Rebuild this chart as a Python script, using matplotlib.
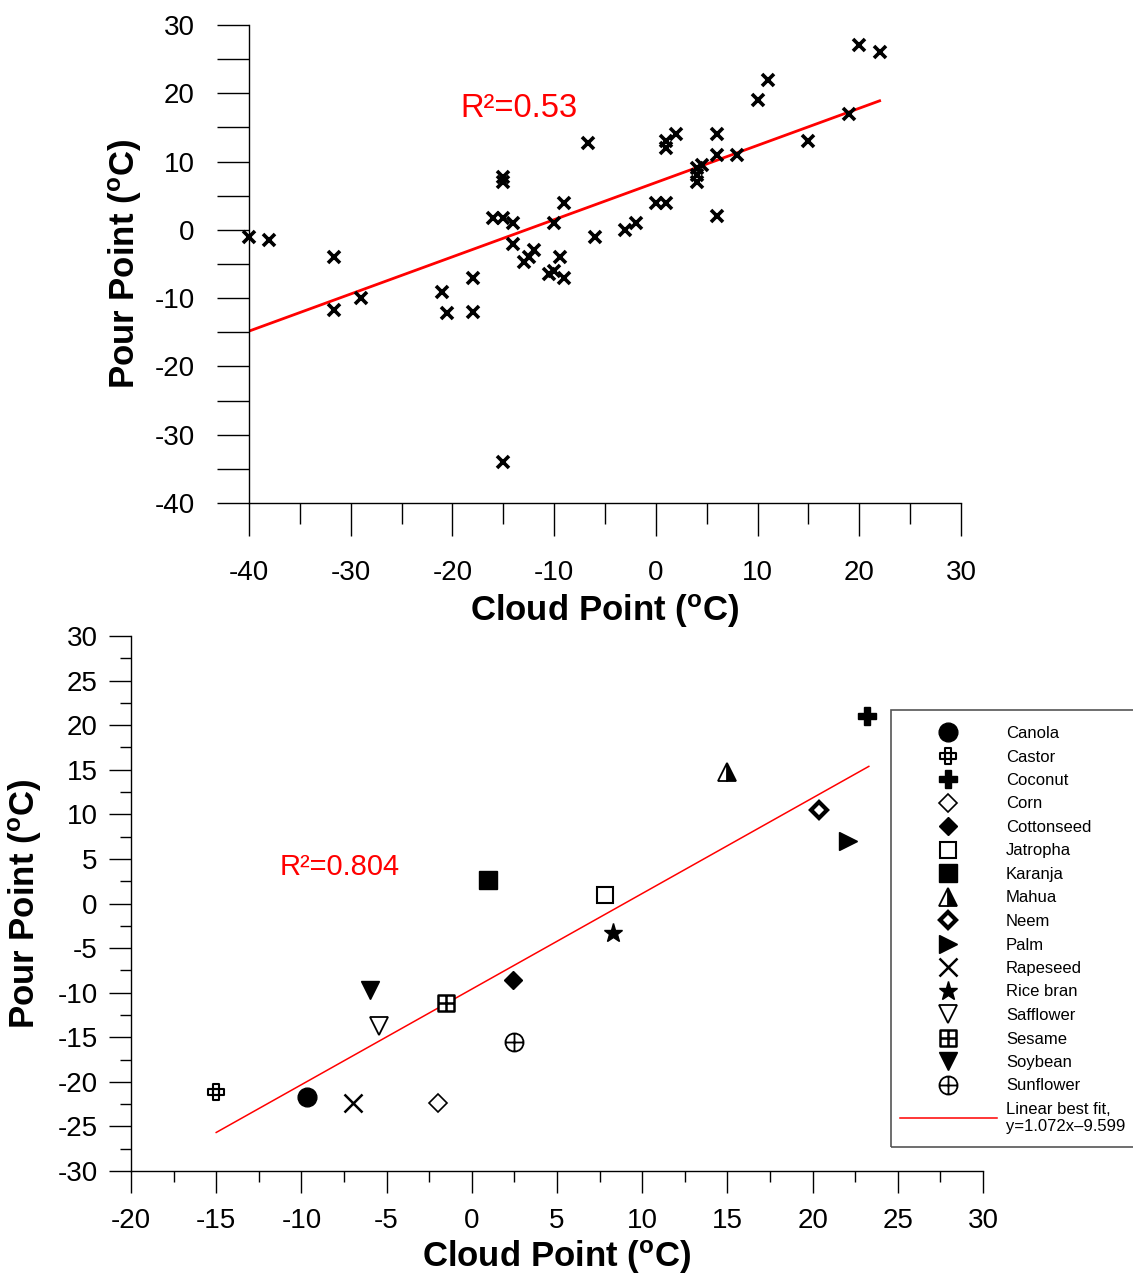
import matplotlib
matplotlib.use("Agg")
import matplotlib.pyplot as plt
from matplotlib.path import Path
from matplotlib.patches import Rectangle
import numpy as np

plt.rcParams['font.family'] = 'Liberation Sans'
plt.rcParams['axes.unicode_minus'] = False
plt.rcParams['mathtext.fontset'] = 'custom'
plt.rcParams['mathtext.rm'] = 'Liberation Sans'
plt.rcParams['mathtext.bf'] = 'Liberation Sans:bold'

# --- top panel: all oils, cloud point vs pour point ---
cloud_all = [-40, -38, -31.6, -31.6, -29, -21, -20.5, -18, -18, -15,
             -16, -15, -15, -15, -14, -14, -13, -12.5, -12, -10,
             -9, -9.4, -10.5, -10, -9, -6.7, -6, -3, -2, 0,
             1, 1, 1, 2, 4, 4, 4.5, 4, 6, 6,
             6, 8, 10, 11, 15, 19, 20, 22]
pour_all = [-1, -1.5, -4, -11.7, -10, -9.1, -12.2, -7, -12, -34,
            1.7, 7.7, 7, 1.7, 1, -2, -4.7, -4, -3, 1,
            4, -4, -6.5, -6, -7, 12.7, -1, 0, 1, 4,
            4, 13, 12, 14, 9, 8, 9.5, 7, 14, 11,
            2, 11, 19, 22, 13, 17, 27, 26]
fit_all_slope = 0.544
fit_all_intercept = 6.93
fit_all_x = [-40, 22]
r2_all = 'R²=0.53'

# --- bottom panel: averaged by feedstock ---
oils = ['Canola', 'Castor', 'Coconut', 'Corn', 'Cottonseed', 'Jatropha',
        'Karanja', 'Mahua', 'Neem', 'Palm', 'Rapeseed', 'Rice bran',
        'Safflower', 'Sesame', 'Soybean', 'Sunflower']
cloud_oil = [-9.7, -15, 23.2, -2.0, 2.4, 7.8, 0.95, 15, 20.4, 22.1,
             -7, 8.3, -5.45, -1.5, -6.0, 2.5]
pour_oil = [-21.7, -21.1, 21, -22.4, -8.6, 1, 2.6, 14.7, 10.5, 7,
            -22.4, -3.3, -13.7, -11.2, -9.7, -15.5]
fit_oil_slope = 1.072
fit_oil_intercept = -9.599
fit_oil_x = [-15, 23.3]
r2_oil = 'R²=0.804'


def square(cx, cy, h):
    return Path([(cx - h, cy - h), (cx + h, cy - h), (cx + h, cy + h),
                 (cx - h, cy + h), (cx - h, cy - h)],
                [Path.MOVETO, Path.LINETO, Path.LINETO, Path.LINETO, Path.CLOSEPOLY])


def seg(p0, p1):
    return Path([p0, p1], [Path.MOVETO, Path.LINETO])


castor_path = Path.make_compound_path(square(0, 0, .5), square(0, 1, .5), square(0, -1, .5),
                                      square(1, 0, .5), square(-1, 0, .5))
sesame_path = Path.make_compound_path(square(0, 0, 1), seg((-1, 0), (1, 0)), seg((0, -1), (0, 1)))
sunflower_path = Path.make_compound_path(Path.unit_circle(), seg((-1, 0), (1, 0)), seg((0, -1), (0, 1)))

styles = {
    'Canola': dict(marker='o', ms=13.5, mfc='k', mec='k'),
    'Castor': dict(marker=castor_path, ms=12, mfc='w', mec='k', mew=1.5),
    'Coconut': dict(marker='P', ms=13, mfc='k', mec='k'),
    'Corn': dict(marker='D', ms=8.7, mfc='w', mec='k', mew=1.2),
    'Cottonseed': dict(marker='D', ms=9, mfc='k', mec='k'),
    'Jatropha': dict(marker='s', ms=12, mfc='w', mec='k', mew=1.5),
    'Karanja': dict(marker='s', ms=13, mfc='k', mec='k'),
    'Mahua': dict(marker='^', ms=12.5, mfc='k', mec='k', mew=1.3, fillstyle='right', markerfacecoloralt='w'),
    'Neem': dict(marker='D', ms=8.5, mfc='w', mec='k', mew=3),
    'Palm': dict(marker='>', ms=13.5, mfc='k', mec='k'),
    'Rapeseed': dict(marker='x', ms=13, mec='k', mew=1.8),
    'Rice bran': dict(marker='*', ms=14, mfc='k', mec='k'),
    'Safflower': dict(marker='v', ms=12.5, mfc='w', mec='k', mew=1.3),
    'Sesame': dict(marker=sesame_path, ms=12, mfc='w', mec='k', mew=1.8),
    'Soybean': dict(marker='v', ms=13, mfc='k', mec='k'),
    'Sunflower': dict(marker=sunflower_path, ms=13, mfc='w', mec='k', mew=1.3),
}

fig = plt.figure(figsize=(11.33, 12.78), dpi=100)
W, H = 1133, 1278

# ---------------- top panel ----------------
ax1 = fig.add_axes([249 / W, 1 - 503 / H, 712 / W, 478 / H])
ax1.plot(cloud_all, pour_all, 'x', color='k', ms=8.5, mew=2.6, clip_on=False, zorder=3)
xf = np.array(fit_all_x)
ax1.plot(xf, fit_all_slope * xf + fit_all_intercept, color='red', lw=2, zorder=2)
ax1.text(-19.2, 17.7, r2_all, color='red', fontsize=23.5, ha='left', va='center')

ax1.set_xlim(-40, 30)
ax1.set_ylim(-40, 30)
ax1.set_xticks(np.arange(-40, 31, 10))
ax1.set_xticks(np.arange(-35, 30, 10), minor=True)
ax1.set_yticks(np.arange(-40, 31, 10))
ax1.set_yticks(np.arange(-35, 30, 10), minor=True)
ax1.tick_params(axis='x', which='major', length=24, width=1, pad=17, labelsize=20)
ax1.tick_params(axis='x', which='minor', length=15, width=1)
ax1.tick_params(axis='y', which='both', length=23, width=1, pad=16, labelsize=20)
for s in ['top', 'right']:
    ax1.spines[s].set_visible(False)
for s in ['left', 'bottom']:
    ax1.spines[s].set_linewidth(1)
ax1.set_xlabel(r'Cloud Point ($\mathbf{^o}$C)', fontsize=25, fontweight='bold')
ax1.set_ylabel(r'Pour Point ($\mathbf{^o}$C)', fontsize=25, fontweight='bold')
ax1.xaxis.label.set_va('center')
ax1.yaxis.label.set_va('center')
ax1.xaxis.set_label_coords(0.5, -0.226)
ax1.yaxis.set_label_coords(-0.174, 0.5)

# ---------------- bottom panel ----------------
ax2 = fig.add_axes([131 / W, 1 - 1171 / H, 852 / W, 535 / H])
for name, cx, py in zip(oils, cloud_oil, pour_oil):
    ax2.plot([cx], [py], linestyle='none', label=name, clip_on=False, zorder=3, **styles[name])
xf = np.array(fit_oil_x)
ax2.plot(xf, fit_oil_slope * xf + fit_oil_intercept, color='red', lw=1.1, zorder=2,
         label='Linear best fit,\ny=1.072x\u20139.599')
ax2.text(-11.26, 4.1, r2_oil, color='red', fontsize=21, ha='left', va='center')

ax2.set_xlim(-20, 30)
ax2.set_ylim(-30, 30)
ax2.set_xticks(np.arange(-20, 31, 5))
ax2.set_xticks(np.arange(-17.5, 30, 5), minor=True)
ax2.set_yticks(np.arange(-30, 31, 5))
ax2.set_yticks(np.arange(-27.5, 30, 5), minor=True)
ax2.tick_params(axis='both', which='major', length=16, width=1, labelsize=20)
ax2.tick_params(axis='both', which='minor', length=8, width=1)
ax2.tick_params(axis='x', which='major', pad=11)
ax2.tick_params(axis='y', which='major', pad=8)
for s in ['top', 'right']:
    ax2.spines[s].set_visible(False)
for s in ['left', 'bottom']:
    ax2.spines[s].set_linewidth(1)
ax2.set_xlabel(r'Cloud Point ($\mathbf{^o}$C)', fontsize=25, fontweight='bold')
ax2.set_ylabel(r'Pour Point ($\mathbf{^o}$C)', fontsize=25, fontweight='bold')
ax2.xaxis.label.set_va('center')
ax2.yaxis.label.set_va('center')
ax2.xaxis.set_label_coords(0.5, -0.161)
ax2.yaxis.set_label_coords(-0.124, 0.5)

# legend box runs off the right edge of the figure
fig.patches.append(Rectangle((891 / W, 1 - 1147 / H), 260 / W, 437 / H,
                             transform=fig.transFigure, fill=False,
                             edgecolor='#555555', linewidth=1.2, clip_on=False))
leg = ax2.legend(loc='upper left', bbox_to_anchor=(900 / W, 1 - 726 / H),
                 bbox_transform=fig.transFigure, borderaxespad=0, fontsize=12,
                 frameon=False, numpoints=1,
                 handlelength=5.8, handletextpad=0.55, borderpad=0, labelspacing=0.51)

fig.savefig('out.png', dpi=100)
